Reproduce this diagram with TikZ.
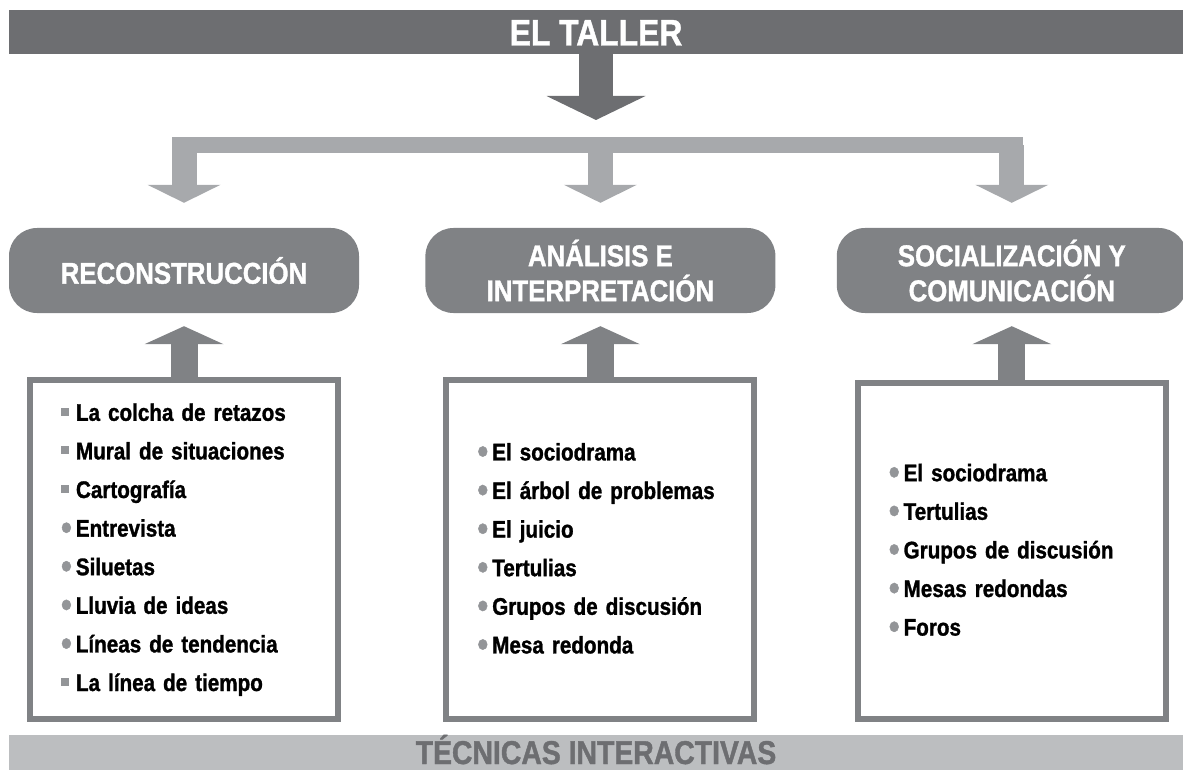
\documentclass[tikz,border=0pt]{standalone}
\usepackage{fontspec}
\setmainfont{Liberation Sans}
\newfontfamily\schmal{Liberation Sans}[FakeStretch=0.86, BoldFeatures={FakeBold=1.2}]
\usepackage{xcolor}
\definecolor{balkengrau}{HTML}{6D6E71}
\definecolor{mittelgrau}{HTML}{808285}
\definecolor{hellgrau}{HTML}{A7A9AC}
\definecolor{bandgrau}{HTML}{BCBEC0}
\definecolor{punktgrau}{HTML}{939598}
\usetikzlibrary{arrows.meta, positioning}

\newcommand{\eckig}{\textcolor{punktgrau}{\rule[5pt]{8pt}{8pt}}\hspace{7pt}}
\newcommand{\rund}{\raisebox{-3pt}{\textcolor{punktgrau}{\fontsize{36}{0}\selectfont •}}\hspace{4pt}}

\begin{document}
\begin{tikzpicture}[x=1pt, y=-1pt,
    balken/.style={rectangle, minimum width=1174pt, inner sep=0pt},
    pille/.style={rectangle, rounded corners=28pt, fill=mittelgrau, text=white, minimum width=350pt, minimum height=85pt, align=center, font=\schmal\bfseries\fontsize{30}{35}\selectfont},
    liste/.style={rectangle, draw=mittelgrau, line width=6pt, minimum width=308pt, minimum height=339pt, text width=246pt, inner xsep=31pt, align=left, font=\schmal\bfseries\fontsize{24}{38.6}\selectfont},
    dunkelpfeil/.style={balkengrau, line width=34pt, -{Triangle[width=99pt, length=24pt, line width=0pt]}},
    hellpfeil/.style={hellgrau, line width=25pt, -{Triangle[width=73pt, length=18pt, line width=0pt]}, shorten >=25pt},
    grauerpfeil/.style={mittelgrau, line width=27pt, -{Triangle[width=79pt, length=18pt, line width=0pt]}, shorten >=13pt}]

        \useasboundingbox (0,0) rectangle (1183,770);

        % Oberer Balken
        \node[balken, fill=balkengrau, text=white, minimum height=44pt, text height=27pt, text depth=0pt, font=\schmal\bfseries\fontsize{37}{37}\selectfont] (taller) at (596,32) {EL TALLER};

        % Drei Phasen
        \node[pille] (reko) at (184,270.5) {RECONSTRUCCIÓN};
        \node[pille, right=66pt of reko] (analyse) {ANÁLISIS E\\INTERPRETACIÓN};
        \node[pille, right=61pt of analyse] (sozial) {SOCIALIZACIÓN Y\\COMUNICACIÓN};

        % Kaesten mit Techniken
        \node[liste, below=64pt of reko] (kasten1) {\eckig La colcha de retazos\\\eckig Mural de situaciones\\\eckig Cartografía\\\rund Entrevista\\\rund Siluetas\\\rund Lluvia de ideas\\\rund Líneas de tendencia\\\eckig La línea de tiempo};
        \node[liste, below=64pt of analyse] (kasten2) {\rund El sociodrama\\\rund El árbol de problemas\\\rund El juicio\\\rund Tertulias\\\rund Grupos de discusión\\\rund Mesa redonda};
        \node[liste, below=67pt of sozial, minimum height=336pt] (kasten3) {\rund El sociodrama\\\rund Tertulias\\\rund Grupos de discusión\\\rund Mesas redondas\\\rund Foros};

        % Unterer Balken
        \node[balken, fill=bandgrau, text=balkengrau, minimum height=35pt, text height=23pt, text depth=0pt, font=\schmal\bfseries\fontsize{33}{33}\selectfont] (techniken) at (596,752.5) {TÉCNICAS INTERACTIVAS};

        % Pfeil nach unten
        \coordinate (spitze) at (596,120);
        \draw[dunkelpfeil] (taller.south) -- (spitze);

        % Verteiler
        \coordinate (gabel links) at (172,145);
        \coordinate (gabel rechts) at (1023,145);
        \draw[hellgrau, line width=16pt] (gabel links) -- (gabel rechts);
        \draw[hellpfeil] (reko.north |- gabel links) -- (reko.north);
        \draw[hellpfeil] (analyse.north |- gabel links) -- (analyse.north);
        \draw[hellpfeil] (sozial.north |- gabel links) -- (sozial.north);

        % Pfeile nach oben
        \draw[grauerpfeil] (kasten1.north) -- (reko.south);
        \draw[grauerpfeil] (kasten2.north) -- (analyse.south);
        \draw[grauerpfeil] (kasten3.north) -- (sozial.south);

\end{tikzpicture}
\end{document}
